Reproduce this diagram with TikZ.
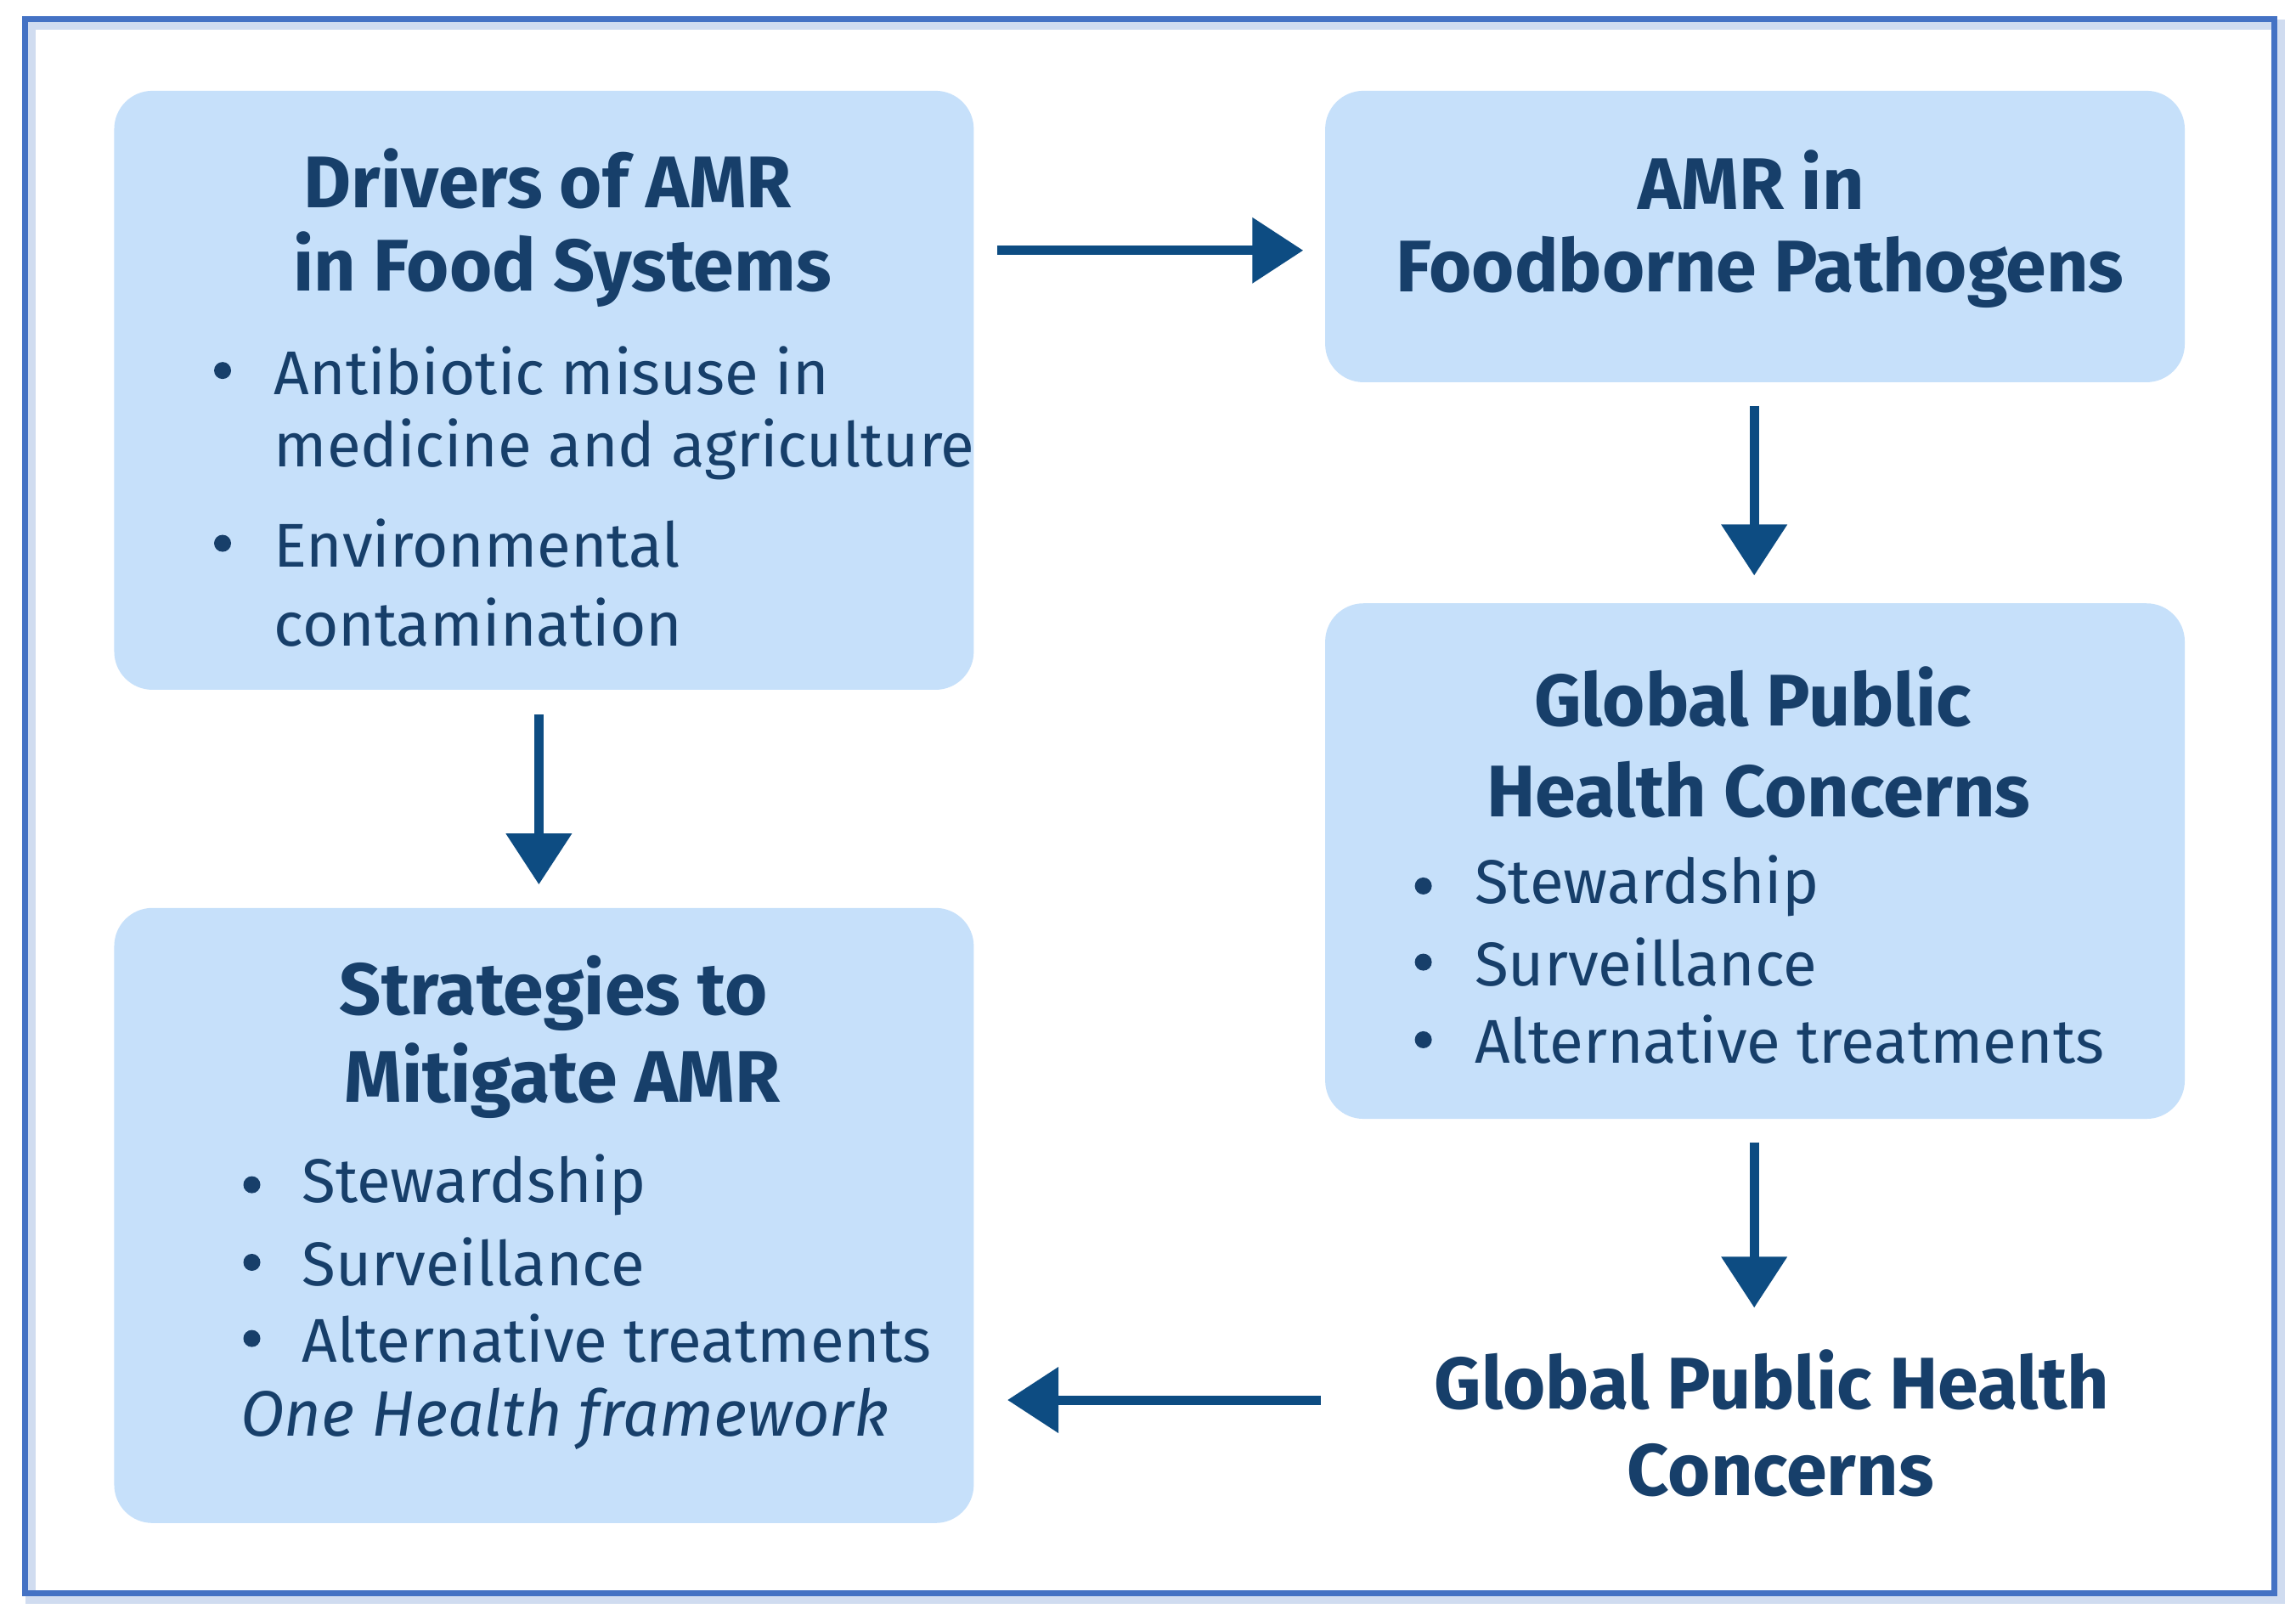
\documentclass[tikz,border=0pt]{standalone}
\usepackage{fontspec}
\setmainfont{Fira Sans}
\usetikzlibrary{arrows.meta}
\definecolor{boxfill}{HTML}{C6E0FA}
\definecolor{navy}{HTML}{173F6A}
\definecolor{arr}{HTML}{0D4C82}
\definecolor{frame}{HTML}{4472C4}
\begin{document}
\begin{tikzpicture}[x=0.01724cm,y=-0.01724cm,
 box/.style={fill=boxfill,draw=none,rounded corners=0.45cm},
 ttl/.style={text=navy,font=\fontsize{24.5}{30}\selectfont\bfseries,align=center,anchor=center},
 bt/.style={text=navy,font=\fontsize{20.7}{26}\selectfont,anchor=west},
 dot/.style={circle,fill=navy,inner sep=0pt,minimum size=0.2cm},
 ar/.style={draw=arr,line width=0.11cm,-{Triangle[length=0.6cm,width=0.75cm]}}]
\useasboundingbox (0,0) rectangle (1568,1106);
\fill[white] (0,0) rectangle (1568,1106);
\draw[frame!25,line width=0.12cm] (21,17) rectangle (1557,1092);
\draw[frame,line width=0.07cm] (17,13) rectangle (1553,1088);
% boxes
\draw[box] (78,62) rectangle (665,471);
\draw[box] (905,62) rectangle (1492,261);
\draw[box] (905,412) rectangle (1492,764);
\draw[box] (78,620) rectangle (665,1040);
% box 1
\node[ttl] (t1a) at (374,122) {Drivers of AMR};
\node[ttl] (t1b) at (384,184) {in Food Systems};
\node[dot] (d1a) at (152,253) {};
\node[bt] (b1a) at (180,253) {Antibiotic misuse in};
\node[bt] (b1b) at (180,307) {medicine and agriculture};
\node[dot] (d1b) at (152,371) {};
\node[bt] (b1c) at (180,371) {Environmental};
\node[bt] (b1d) at (180,425) {contamination};
% box 2
\node[ttl] (t2a) at (1196,123) {AMR in};
\node[ttl] (t2b) at (1202,186) {Foodborne Pathogens};
% box 3
\node[ttl] (t3a) at (1197,476) {Global Public};
\node[ttl] (t3b) at (1201,539) {Health Concerns};
\node[dot] (d3a) at (972,605) {};
\node[bt] (b3a) at (1000,605) {Stewardship};
\node[dot] (d3b) at (972,657) {};
\node[bt] (b3b) at (1000,657) {Surveillance};
\node[dot] (d3c) at (972,710) {};
\node[bt] (b3c) at (1000,710) {Alternative treatments};
% box 4
\node[ttl] (t4a) at (378,678) {Strategies to};
\node[ttl] (t4b) at (384,738) {Mitigate AMR};
\node[dot] (d4a) at (172,809) {};
\node[bt] (b4a) at (199,809) {Stewardship};
\node[dot] (d4b) at (172,862) {};
\node[bt] (b4b) at (199,862) {Surveillance};
\node[dot] (d4c) at (172,914) {};
\node[bt] (b4c) at (199,914) {Alternative treatments};
\node[bt,font=\fontsize{21.5}{26}\selectfont\itshape] (b4d) at (157,969) {One Health framework};
% free text
\node[ttl] (g1) at (1210,942) {Global Public Health};
\node[ttl] (g2) at (1216,1004) {Concerns};
% arrows
\coordinate (a1s) at (681,171); \coordinate (a1e) at (890,171);
\coordinate (a2s) at (1198,277); \coordinate (a2e) at (1198,393);
\coordinate (a3s) at (368,488); \coordinate (a3e) at (368,604);
\coordinate (a4s) at (1198,780); \coordinate (a4e) at (1198,893);
\coordinate (a5s) at (902,956); \coordinate (a5e) at (688,956);
\draw[ar] (a1s) -- (a1e);
\draw[ar] (a2s) -- (a2e);
\draw[ar] (a3s) -- (a3e);
\draw[ar] (a4s) -- (a4e);
\draw[ar] (a5s) -- (a5e);
\end{tikzpicture}
\end{document}
